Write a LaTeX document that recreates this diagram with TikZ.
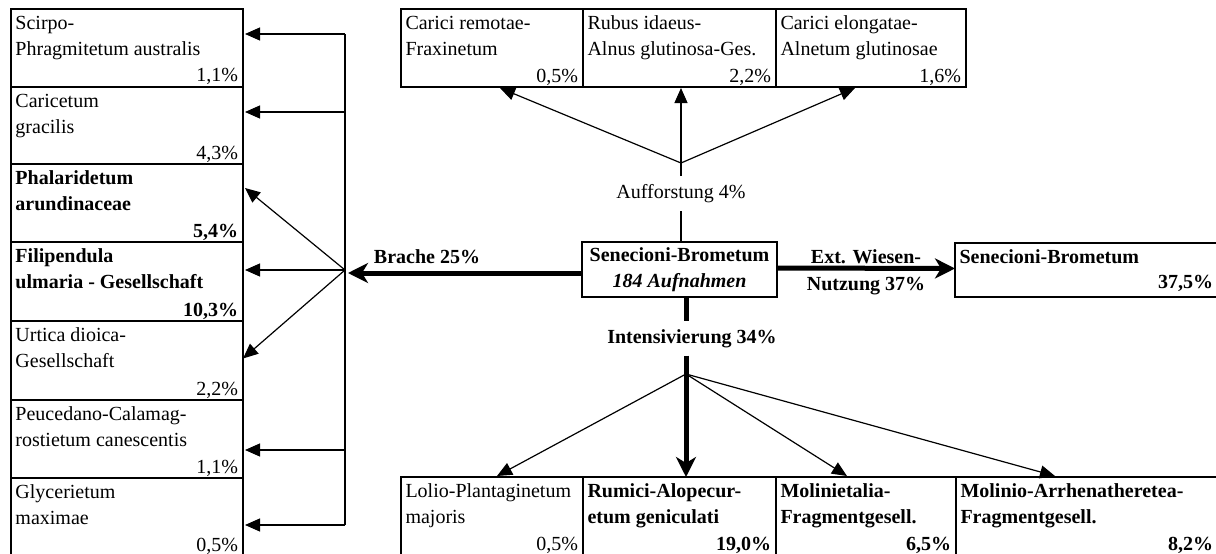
\documentclass[tikz,border=0pt]{standalone}
\usepackage{fontspec}
\setmainfont{Liberation Serif}
\usetikzlibrary{arrows.meta,calc}

\newcommand\boxfont{\fontsize{20}{26}\selectfont}
\newcommand\pctdy{5}
% box with two text lines at the top left and the share at the bottom right
\newcommand{\plantbox}[9]{%
  \node[box, anchor=north west, minimum width={(#4-#2)*1pt}, minimum height={(#5-#3)*1pt}] (#1) at (#2,#3) {};
  \node[txt, font=\boxfont#6, anchor=base west] (#1-a) at ($(#1.north west)+(4.5,20.5)$) {#7};
  \node[txt, font=\boxfont#6, anchor=base west] (#1-b) at ($(#1.north west)+(4.5,46.5)$) {#8};
  \node[txt, font=\boxfont#6, anchor=base east] (#1-p) at ($(#1.south east)+(-5,-\pctdy)$) {#9};
}

\tikzset{
  box/.style={draw, rectangle, line width=2pt, inner sep=0pt, outer sep=0pt},
  txt/.style={inner sep=0pt, outer sep=0pt},
  thinline/.style={line width=1.2pt},
  thinarrow/.style={thinline, -{Triangle[length=15pt,width=13pt]}},
  thickline/.style={line width=5pt},
  thickarrow/.style={thickline, -{Stealth[length=20pt,width=20pt,inset=6pt]}},
}

\begin{document}
\begin{tikzpicture}[x=1pt,y=-1pt]
\useasboundingbox (0,0) rectangle (1216,554);
\fill[white] (0,0) rectangle (1216,554);
\clip (0,0) rectangle (1216,554);

% fallow column
\plantbox{L1}{11}{9}{243}{86.5}{}{Scirpo-}{Phragmitetum australis}{1,1\%}
\plantbox{L2}{11}{86.5}{243}{164}{}{Caricetum}{gracilis}{4,3\%}
\plantbox{L3}{11}{164}{243}{242}{\bfseries}{Phalaridetum}{arundinaceae}{5,4\%}
\plantbox{L4}{11}{242}{243}{321}{\bfseries}{Filipendula}{ulmaria - Gesellschaft}{10,3\%}
\plantbox{L5}{11}{321}{243}{400}{}{Urtica dioica-}{Gesellschaft}{2,2\%}
\plantbox{L6}{11}{400}{243}{478}{}{Peucedano-Calamag-}{rostietum canescentis}{1,1\%}
\plantbox{L7}{11}{478}{243}{556}{}{Glycerietum}{maximae}{0,5\%}

% afforestation row
\plantbox{T1}{401}{9}{583}{87}{}{Carici remotae-}{Fraxinetum}{0,5\%}
\plantbox{T2}{583}{9}{776}{87}{}{Rubus idaeus-}{Alnus glutinosa-Ges.}{2,2\%}
\plantbox{T3}{776}{9}{966}{87}{}{Carici elongatae-}{Alnetum glutinosae}{1,6\%}

% intensification row
\plantbox{B1}{401}{477}{583}{555}{}{Lolio-Plantaginetum}{majoris}{0,5\%}
\plantbox{B2}{583}{477}{776}{555}{\bfseries}{Rumici-Alopecur-}{etum geniculati}{19,0\%}
\plantbox{B3}{776}{477}{956}{555}{\bfseries}{Molinietalia-}{Fragmentgesell.}{6,5\%}
\plantbox{B4}{956}{477}{1218}{555}{\bfseries}{Molinio-Arrhenatheretea-}{Fragmentgesell.}{8,2\%}

% meadow use
\renewcommand\pctdy{9}
\plantbox{R}{955}{243}{1218}{297}{\bfseries}{Senecioni-Brometum}{}{37,5\%}

% starting community
\node[box, minimum width=195pt, minimum height=55pt, align=center, font=\boxfont\bfseries]
  (C) at (679.5,269.5) {Senecioni-Brometum\\\textit{184 Aufnahmen}};

% Brache
\coordinate (bfork) at (345,270);
\coordinate (bv1) at (345,34);
\coordinate (bv2) at (345,112);
\coordinate (bv6) at (345,450);
\coordinate (bv7) at (345,525);
\coordinate (brtip) at (348,273);
\node[txt, font=\boxfont\bfseries, anchor=base] (brache) at (427,263) {Brache 25\%};
\draw[thickarrow] (C.west |- brtip) -- (brtip);
\draw[thinline] (bv1) -- (bv7);
\draw[thinarrow] (bv1) -- ([xshift=2pt]bv1 -| L1.east);
\draw[thinarrow] (bv2) -- ([xshift=2pt]bv2 -| L2.east);
\draw[thinarrow] (bfork) -- ([xshift=2pt,yshift=15pt]L3.east);
\draw[thinarrow] (bfork) -- ([xshift=2pt]bfork -| L4.east);
\draw[thinarrow] (bfork) -- ([yshift=2pt]L5.east);
\draw[thinarrow] (bv6) -- ([xshift=2pt]bv6 -| L6.east);
\draw[thinarrow] (bv7) -- ([xshift=2pt]bv7 -| L7.east);

% Aufforstung
\coordinate (tfork) at (681,163);
\node[txt, font=\boxfont, inner ysep=8pt] (auff) at (681,193.4) {Aufforstung 4\%};
\draw[thinline] (C.north -| tfork) -- (auff.south);
\draw[thinline] (auff.north) -- (tfork);
\draw[thinarrow] (tfork) -- ([xshift=8pt,yshift=-1pt]T1.south);
\draw[thinarrow] (tfork) -- ([xshift=1.5pt,yshift=-1pt]T2.south);
\draw[thinarrow] (tfork) -- ([xshift=-16pt,yshift=-1pt]T3.south);

% Intensivierung
\coordinate (ifork) at (686,374);
\node[txt, font=\boxfont\bfseries, inner ysep=8pt] (int) at (692,338.4) {Intensivierung 34\%};
\draw[thickline] (C.south -| ifork) -- (int.north -| ifork);
\draw[thickarrow] (int.south -| ifork) -- (B2.north -| ifork);
\draw[thinarrow] (ifork) -- ([xshift=5pt,yshift=1pt]B1.north);
\draw[thinarrow] (ifork) -- ([xshift=-19pt,yshift=1pt]B3.north);
\draw[thinarrow] (ifork) -- ([xshift=-32pt,yshift=1pt]B4.north);

% Ext. Wiesen-Nutzung
\draw[thickarrow] ([yshift=1.5pt]C.east) -- ([yshift=1.5pt]R.west);
\node[txt, font=\boxfont\bfseries, anchor=base] (ext1) at (866,263) {Ext. Wiesen-};
\node[txt, font=\boxfont\bfseries, anchor=base] (ext2) at (866,290) {Nutzung 37\%};
\end{tikzpicture}
\end{document}
